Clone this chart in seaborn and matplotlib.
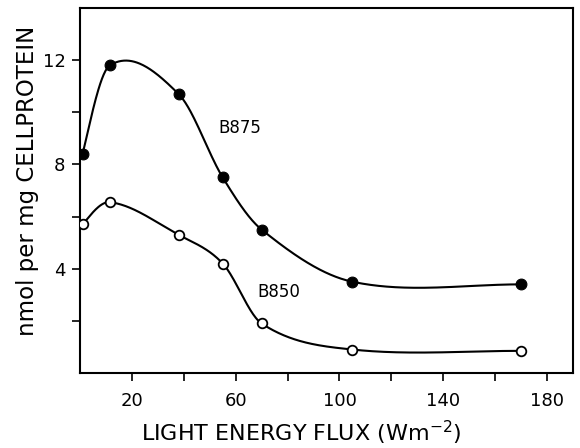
import numpy as np
import pandas as pd
import matplotlib
matplotlib.use("Agg")
import matplotlib.pyplot as plt
import seaborn as sns

# ---- data ----
flux = [1, 11.5, 38, 55, 70, 105, 170]
b875 = [8.4, 11.8, 10.7, 7.5, 5.5, 3.5, 3.4]
b850 = [5.7, 6.55, 5.3, 4.2, 1.9, 0.9, 0.85]
series_labels = ["B875", "B850"]
xticks = [20, 40, 60, 80, 100, 120, 140, 160, 180]
xtick_labels = ["20", "", "60", "", "100", "", "140", "", "180"]
yticks = [2, 4, 6, 8, 10, 12]
ytick_labels = ["", "4", "", "8", "", "12"]
xlabel = "LIGHT ENERGY FLUX (Wm$^{-2}$)"
ylabel = "nmol per mg CELLPROTEIN"


def smooth_curve(x, y, xs):
    """Catmull-Rom style cubic Hermite curve through the points."""
    x = np.asarray(x, float)
    y = np.asarray(y, float)
    n = len(x)
    h = np.diff(x)
    delta = np.diff(y) / h
    d = np.zeros(n)
    for i in range(1, n - 1):
        d[i] = (y[i + 1] - y[i - 1]) / (x[i + 1] - x[i - 1])

    def end(h0, h1, d0, d1):
        v = ((2 * h0 + h1) * d0 - h0 * d1) / (h0 + h1)
        if np.sign(v) != np.sign(d0):
            v = 0.0
        elif abs(v) > abs(3 * d0):
            v = 3 * d0
        return v

    d[0] = end(h[0], h[1], delta[0], delta[1])
    d[-1] = end(h[-1], h[-2], delta[-1], delta[-2])
    out = np.empty_like(xs)
    for k, xv in enumerate(xs):
        i = min(max(np.searchsorted(x, xv) - 1, 0), n - 2)
        t = (xv - x[i]) / h[i]
        h00 = 2 * t ** 3 - 3 * t ** 2 + 1
        h10 = t ** 3 - 2 * t ** 2 + t
        h01 = -2 * t ** 3 + 3 * t ** 2
        h11 = t ** 3 - t ** 2
        out[k] = h00 * y[i] + h10 * h[i] * d[i] + h01 * y[i + 1] + h11 * h[i] * d[i + 1]
    return out


sns.set_style("ticks")
plt.rcParams["font.family"] = ["DejaVu Sans"]
plt.rcParams["text.color"] = "black"
plt.rcParams["axes.labelcolor"] = "black"

fig = plt.figure(figsize=(5.8, 4.48), dpi=100)
ax = fig.add_axes([80 / 580, 1 - 373 / 448, (573 - 80) / 580, (373 - 8) / 448])

xs = np.linspace(flux[0], flux[-1], 500)
curve_df = pd.DataFrame({
    "x": np.concatenate([xs, xs]),
    "y": np.concatenate([smooth_curve(flux, b875, xs), smooth_curve(flux, b850, xs)]),
    "s": ["B875"] * len(xs) + ["B850"] * len(xs),
})
sns.lineplot(data=curve_df, x="x", y="y", units="s", estimator=None,
             color="black", lw=1.5, ax=ax, zorder=2)

pts875 = pd.DataFrame({"x": flux, "y": b875})
pts850 = pd.DataFrame({"x": flux, "y": b850})
sns.scatterplot(data=pts875, x="x", y="y", ax=ax, s=60, color="black",
                edgecolor="black", linewidth=0.8, zorder=3)
sns.scatterplot(data=pts850, x="x", y="y", ax=ax, s=48, facecolor="white",
                edgecolor="black", linewidth=1.3, zorder=3)

ax.text(61.5, 9.4, series_labels[0], fontsize=12, ha="center", va="center",
        color="black")
ax.text(76.5, 3.1, series_labels[1], fontsize=12, ha="center", va="center",
        color="black")

ax.set_xlim(0, 190)
ax.set_ylim(0, 14)
ax.set_xticks(xticks)
ax.set_xticklabels(xtick_labels)
ax.set_yticks(yticks)
ax.set_yticklabels(ytick_labels)
ax.tick_params(axis="both", direction="out", length=5.5, width=1.2,
               labelsize=13, colors="black")
ax.tick_params(axis="x", pad=8)
ax.tick_params(axis="y", pad=5)
for sp in ax.spines.values():
    sp.set_visible(True)
    sp.set_linewidth(1.5)
    sp.set_color("black")

ax.set_xlabel(xlabel, fontsize=16, color="black")
ax.set_ylabel(ylabel, fontsize=16.5, color="black")
ax.xaxis.set_label_coords(0.448, -0.125)
ax.yaxis.set_label_coords(-0.084, 0.526)

fig.savefig("out.png", dpi=100)
